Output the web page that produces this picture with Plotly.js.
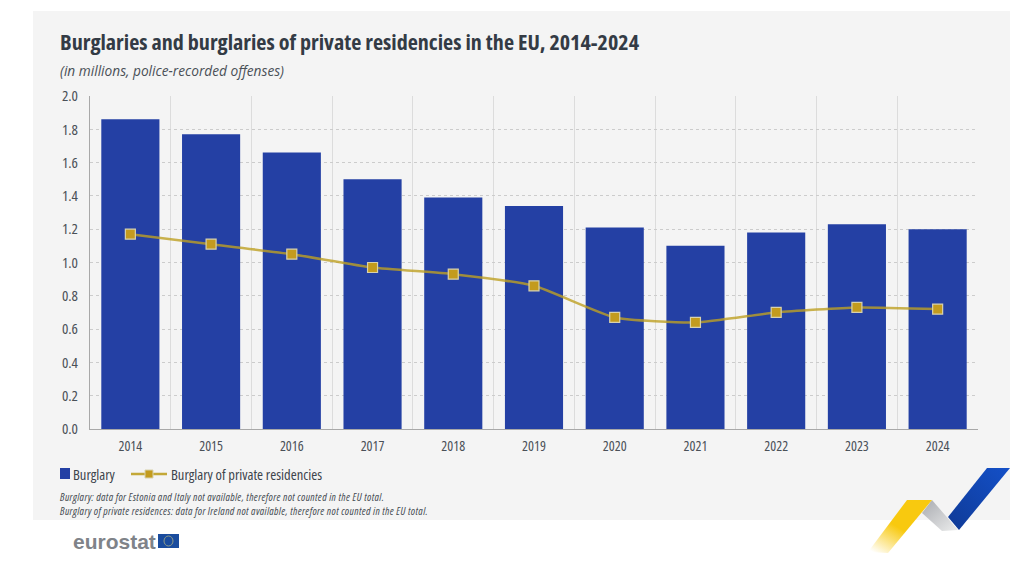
<!DOCTYPE html>
<html>
<head>
<meta charset="utf-8">
<script src="https://cdn.plot.ly/plotly-3.0.0.min.js"></script>
<style>html,body{margin:0;padding:0;background:#fff}#chart{width:1024px;height:576px}#chart text{font-stretch:75%}#chart .annotation[data-index="1"] text{font-stretch:100%}#chart .annotation[data-index="4"] text,#chart .annotation[data-index="5"] text{letter-spacing:.35px}</style>
</head>
<body>
<div id="chart"></div>
<script>
const years = ['2014','2015','2016','2017','2018','2019','2020','2021','2022','2023','2024'];
const burglary = [1.86,1.77,1.66,1.50,1.39,1.34,1.21,1.10,1.18,1.23,1.20];
const privateResidencies = [1.17,1.11,1.05,0.97,0.93,0.86,0.67,0.64,0.70,0.73,0.72];
const seriesBar = 'Burglary';
const seriesLine = 'Burglary of private residencies';
const titleText = 'Burglaries and burglaries of private residencies in the EU, 2014-2024';
const subtitleText = '(in millions, police-recorded offenses)';
const note1 = 'Burglary: data for Estonia and Italy not available, therefore not counted in the EU total.';
const note2 = 'Burglary of private residences: data for Ireland not available, therefore not counted in the EU total.';

const W=1024,H=576,L=90,R=46,T=96,B=147;
const px=x=>(x-L)/(W-L-R);
const py=y=>1-(y-T)/(H-T-B);
const narrow='"Open Sans",sans-serif';
const txt=(text,x,y,size,color)=>({text,x:px(x),y:py(y),xref:'paper',yref:'paper',xanchor:'left',yanchor:'middle',showarrow:false,align:'left',font:{family:narrow,size,color}});
const logoSvg=`<svg xmlns="http://www.w3.org/2000/svg" width="170" height="100" viewBox="860 460 170 100"><defs><linearGradient id="y" x1="0.75" y1="0.1" x2="0.1" y2="1"><stop offset="0.45" stop-color="#f8c90f"/><stop offset="1" stop-color="#f8c90f" stop-opacity="0"/></linearGradient><linearGradient id="g" x1="0" y1="0" x2="1" y2="1"><stop offset="0" stop-color="#a9abb0"/><stop offset="1" stop-color="#eceded"/></linearGradient><linearGradient id="b" x1="1" y1="0" x2="0" y2="1"><stop offset="0" stop-color="#1450c8"/><stop offset="1" stop-color="#0f3a96"/></linearGradient></defs><polygon fill="url(#g)" points="932,500 958,530 942,531 922,513"/><polygon fill="url(#y)" points="907,500 932,500 888,553 868,552"/><polygon fill="url(#b)" points="987,468 1010,468 959,530 948,517"/></svg>`;
const paperShape=(o)=>Object.assign({xref:'paper',yref:'paper'},o);

const data=[
 {type:'bar',name:seriesBar,x:years,y:burglary,marker:{color:'#2440a4'},hoverinfo:'skip'},
 {type:'scatter',mode:'lines+markers',name:seriesLine,x:years,y:privateResidencies,
  line:{color:'rgba(190,160,35,0.8)',width:2.5,shape:'spline',smoothing:0.5},
  marker:{symbol:'square',size:10,color:'#c39b1e',line:{color:'#d8d2ac',width:1.2}},hoverinfo:'skip'}
];
const layout={
 width:W,height:H,margin:{l:L,r:R,t:T,b:B,pad:0},paper_bgcolor:'#fff',plot_bgcolor:'rgba(0,0,0,0)',
 bargap:0.28,showlegend:false,
 font:{family:narrow,color:'#444b52',size:12},
 xaxis:{type:'category',range:[-0.5,10.5],tickson:'boundaries',ticks:'',showgrid:true,gridcolor:'#dcdcdc',gridwidth:1,showline:true,linecolor:'#a8a8a8',linewidth:1,tickfont:{family:narrow,size:14,color:'#4a5057'},automargin:false,ticklabelstandoff:4},
 yaxis:{range:[0,2],tick0:0,dtick:0.2,tickformat:'.1f',ticks:'',showgrid:true,griddash:'dot',gridcolor:'#cccccc',gridwidth:1,showline:true,linecolor:'#a8a8a8',linewidth:1,zeroline:false,tickfont:{family:narrow,size:15,color:'#4a5057'},automargin:false,ticklabelstandoff:8},
 shapes:[
  paperShape({type:'rect',x0:px(33),x1:px(1010),y0:py(520),y1:py(11),fillcolor:'#f4f4f4',line:{width:0},layer:'below'}),
  paperShape({type:'rect',x0:px(60),x1:px(70),y0:py(479),y1:py(468),fillcolor:'#2440a4',line:{width:0}}),
  paperShape({type:'line',x0:px(131),x1:px(167),y0:py(474),y1:py(474),line:{color:'rgba(190,160,35,0.9)',width:2.5}}),
  paperShape({type:'rect',x0:px(145),x1:px(153),y0:py(478),y1:py(470),fillcolor:'#c39b1e',line:{color:'#d8d2ac',width:1}}),
  paperShape({type:'rect',x0:px(158),x1:px(179),y0:py(548),y1:py(534),fillcolor:'#1a4c9e',line:{width:0}}),
  paperShape({type:'circle',x0:px(164),x1:px(173),y0:py(546),y1:py(536),fillcolor:'rgba(0,0,0,0)',line:{color:'#8f9c8a',width:1}})
 ],
 images:[{source:'data:image/svg+xml;utf8,'+encodeURIComponent(logoSvg),xref:'paper',yref:'paper',x:px(860),y:py(460),sizex:px(1030)-px(860),sizey:py(460)-py(560),xanchor:'left',yanchor:'top',sizing:'stretch',layer:'above'}],
 annotations:[
  txt('<b>'+titleText+'</b>',57.5,41,22.1,'#333b45'),
  txt('<i>'+subtitleText+'</i>',57.5,70,13.7,'#4a5057'),
  txt(seriesBar,71,474,14.5,'#3d444c'),
  txt(seriesLine,169,474,14.5,'#3d444c'),
  txt('<i>'+note1+'</i>',57.5,497,10.7,'#444b52'),
  txt('<i>'+note2+'</i>',57.5,511,10.7,'#444b52'),
  {text:'<b>eurostat</b>',x:px(71),y:py(541),xref:'paper',yref:'paper',xanchor:'left',yanchor:'middle',showarrow:false,font:{family:'"Liberation Sans",sans-serif',size:21,color:'#7f8389'}}
 ]
};
Plotly.newPlot('chart',data,layout,{displayModeBar:false,staticPlot:true});
</script>
</body>
</html>
